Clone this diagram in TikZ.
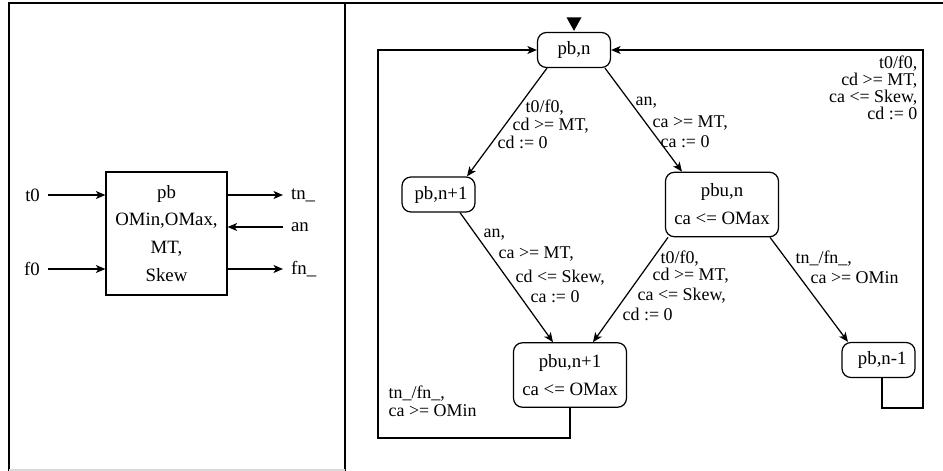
\documentclass[tikz,border=0pt]{standalone}
\usepackage{fontspec}
\setmainfont{Liberation Serif}
\usetikzlibrary{positioning, arrows.meta}

\begin{document}
\begin{tikzpicture}[
    % GLOBAL CFG
    x=0.2mm, y=-0.2mm,
    font=\fontsize{10.7}{15.9}\selectfont,
    >={Stealth[length=1.9mm,width=1.6mm,inset=0.5mm]},
    line width=0.7pt,
    % Styles
    frame/.style={% For the panel borders
        line width=1.1pt,
    },
    block/.style={% For the component box
        rectangle,
        draw,
        align=center,
        minimum width=24.2mm,
        minimum height=24.6mm,
        inner sep=0pt,
    },
    state/.style={% For the locations
        rectangle,
        rounded corners=1.8mm,
        draw,
        align=center,
        minimum width=14.6mm,
        minimum height=7mm,
        inner sep=0pt,
    },
    ustate/.style={% Locations with an invariant
        state,
        minimum width=22.6mm,
        minimum height=12.9mm,
    },
    port/.style={% For the port names
        inner sep=1.5mm,
    },
    guard/.style={% For the edge labels
        inner sep=0pt,
        anchor=base west,
        font=\fontsize{10.2}{9.8}\selectfont,
    },
]

% Frame of the two panels
\useasboundingbox (0,0) rectangle (943,471);
\draw[frame] (9,471) -- (9,3) -- (943,3);
\draw[frame] (345,3) -- (345,471);
\draw[gray!30, line width=0.8pt] (9,470) -- (345,470);

% Left: the component and its ports
\node[block] (blk) at (166.5,233.5) {pb\\OMin,OMax,\\MT,\\Skew};
\node[port, anchor=east] (lt0) at (48,195) {t0};
\node[port, anchor=east] (lf0) at (48,269) {f0};
\node[port, anchor=west] (ltn) at (283,195) {tn\_};
\node[port, anchor=west] (lan) at (283,227) {an};
\node[port, anchor=west] (lfn) at (283,269) {fn\_};

\draw[->] (lt0.east) -- (lt0.east -| blk.west);
\draw[->] (lf0.east) -- (lf0.east -| blk.west);
\draw[->] (ltn.west -| blk.east) -- (ltn.west);
\draw[->] (lan.west) -- (lan.west -| blk.east);
\draw[->] (lfn.west -| blk.east) -- (lfn.west);

% Right: the automaton
\node[state] (pbn) at (574,50) {pb,n};
\node[state] (pbn1) at (438.5,194.5) {\hspace{1mm}pb,n+1};
\node[ustate] (pbun) at (722,204.5) {pbu,n\\ca <= OMax};
\node[ustate] (pbun1) at (570,375) {pbu,n+1\\ca <= OMax};
\node[state] (pbnm) at (878.5,360) {\hspace{1.5mm}pb,n-1};

% initial mark
\fill ([xshift=-1.5mm,yshift=2.9mm]pbn.north) -- ++(3mm,0) -- ([yshift=0.2mm]pbn.north) -- cycle;

% Transitions
\draw[->] ([xshift=-5.4mm]pbn.south) -- ([xshift=5.7mm]pbn1.north);
\draw[->] ([xshift=6.2mm]pbn.south) -- ([xshift=-8mm]pbun.north);
\draw[->] ([xshift=4.3mm]pbn1.south) -- ([xshift=-3.4mm]pbun1.north);
\draw[->] ([xshift=-10.8mm]pbun.south) -- ([xshift=4.6mm]pbun1.north);
\draw[->] ([xshift=9.6mm]pbun.south) -- ([xshift=-6.1mm]pbnm.north);

% Back to pb,n
\coordinate (lret) at (378,438);
\coordinate (rret) at (923,408);
\draw[->] (pbun1.south) |- (lret) |- (pbn.west);
\draw[->] ([xshift=0.7mm]pbnm.south) |- (rret) |- (pbn.east);

% Guards and resets
\node[guard] (g1a) at (525,112) {t0/f0,};
\node[guard] (g1b) at (512,130) {cd >= MT,};
\node[guard] (g1c) at (497,148) {cd := 0};

\node[guard] (g2a) at (635,105) {an,};
\node[guard] (g2b) at (652,127) {ca >= MT,};
\node[guard] (g2c) at (660,147) {ca := 0};

\node[guard] (g3a) at (483,237) {an,};
\node[guard] (g3b) at (498,258) {ca >= MT,};
\node[guard] (g3c) at (515,282) {cd <= Skew,};
\node[guard] (g3d) at (530,302) {ca := 0};

\node[guard] (g4a) at (660,263) {t0/f0,};
\node[guard] (g4b) at (652,280) {cd >= MT,};
\node[guard] (g4c) at (637,300) {ca <= Skew,};
\node[guard] (g4d) at (622,320) {cd := 0};

\node[guard] (g5a) at (795,263) {tn\_/fn\_,};
\node[guard] (g5b) at (810,283) {ca >= OMin};

\node[guard, anchor=north east, align=right] (g6) at (918,55) {t0/f0,\\cd >= MT,\\ca <= Skew,\\cd := 0};

\node[guard] (g7a) at (388,398) {tn\_/fn\_,};
\node[guard] (g7b) at (388,416) {ca >= OMin};

\end{tikzpicture}
\end{document}
